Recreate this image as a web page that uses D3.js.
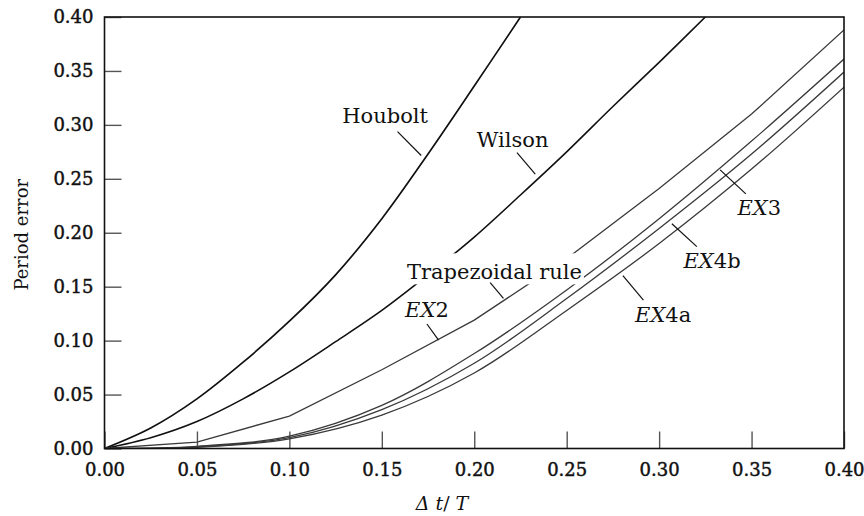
<!DOCTYPE html>
<html>
<head>
<meta charset="utf-8">
<script src="https://cdn.jsdelivr.net/npm/d3@7"></script>
<style>
  html, body { margin: 0; padding: 0; background: #fff; }
  svg text { font-family: "DejaVu Serif", serif; fill: #111; }
</style>
</head>
<body>
<svg id="chart" width="864" height="516"></svg>
<script>
// ─── DATA ─────────────────────────────────────────────────────────────────────
const gridX     = [0, 0.05, 0.10, 0.15, 0.20, 0.25, 0.30, 0.35, 0.40];
const trapY     = [0, 0.006, 0.030, 0.073, 0.119, 0.176, 0.241, 0.310, 0.388];
const ex3Y      = [0, 0.002, 0.0115, 0.040, 0.088, 0.147, 0.213, 0.285, 0.361];
const ex4bY     = [0, 0.0015, 0.010, 0.036, 0.079, 0.139, 0.204, 0.273, 0.349];
const ex4aY     = [0, 0.001, 0.009, 0.031, 0.070, 0.128, 0.190, 0.259, 0.335];

const houboltX  = [0, 0.025, 0.05, 0.075, 0.10, 0.125, 0.15, 0.175, 0.20, 0.225];
const houboltY  = [0, 0.019, 0.046, 0.080, 0.118, 0.161, 0.213, 0.273, 0.336, 0.40];

const wilsonX   = [0, 0.025, 0.05, 0.075, 0.10, 0.125, 0.15, 0.175, 0.20, 0.225, 0.25, 0.275, 0.30, 0.325];
const wilsonY   = [0, 0.010, 0.025, 0.046, 0.071, 0.099, 0.128, 0.161, 0.196, 0.235, 0.275, 0.317, 0.358, 0.40];

const tickValues = [0, 0.05, 0.10, 0.15, 0.20, 0.25, 0.30, 0.35, 0.40];

// label text anchor + leader line (data units)
const labels = [
  { parts: [["Houbolt", false]],          at: [0.175, 0.3016], anchor: "end",   lead: [[0.1585, 0.2938], [0.1713, 0.2716]] },
  { parts: [["Wilson", false]],           at: [0.2014, 0.2799], anchor: "start", lead: [[0.2231, 0.2743], [0.2330, 0.2543]] },
  { parts: [["Trapezoidal rule", false]], at: [0.1636, 0.1568], anchor: "start", lead: [[0.2086, 0.1537], [0.2158, 0.1392]], mask: true },
  { parts: [["EX", true], ["2", false]],  at: [0.1626, 0.1221], anchor: "start", lead: [[0.1744, 0.1154], [0.1807, 0.1005]] },
  { parts: [["EX", true], ["3", false]],  at: [0.3424, 0.2165], anchor: "start", lead: [[0.3330, 0.2583], [0.3469, 0.2360]] },
  { parts: [["EX", true], ["4b", false]], at: [0.3132, 0.1671], anchor: "start", lead: [[0.3069, 0.2083], [0.3204, 0.1871]] },
  { parts: [["EX", true], ["4a", false]], at: [0.2870, 0.1175], anchor: "start", lead: [[0.2804, 0.1602], [0.2915, 0.1376]] },
];

// ─── LAYOUT ───────────────────────────────────────────────────────────────────
const margin = { left: 104.5, right: 20, top: 17, bottom: 67.5 };
const W = 864, H = 516;
const svg = d3.select("#chart");

const x = d3.scaleLinear().domain([0, 0.40]).range([margin.left, W - margin.right]);
const y = d3.scaleLinear().domain([0, 0.40]).range([H - margin.bottom, margin.top]);

svg.append("defs").append("clipPath").attr("id", "plot-clip")
  .append("rect")
  .attr("x", x(0)).attr("y", y(0.40))
  .attr("width", x(0.40) - x(0)).attr("height", y(0) - y(0.40));

// ─── AXES ─────────────────────────────────────────────────────────────────────
const fmt = d3.format(".2f");

const xAxis = svg.append("g")
  .attr("transform", `translate(0,${y(0)})`)
  .call(d3.axisBottom(x).tickValues(tickValues).tickFormat(fmt).tickSizeInner(-17).tickSizeOuter(0).tickPadding(10));

const yAxis = svg.append("g")
  .attr("transform", `translate(${x(0)},0)`)
  .call(d3.axisLeft(y).tickValues(tickValues).tickFormat(fmt).tickSizeInner(-17).tickSizeOuter(0).tickPadding(11));

[xAxis, yAxis].forEach(ax => {
  ax.select(".domain").remove();
  ax.selectAll(".tick line").attr("stroke", "#555").attr("stroke-width", 1.4);
  ax.selectAll(".tick text")
    .style("font-size", "18px")
    .attr("fill", "#111")
    .attr("stroke", "#111").attr("stroke-width", 0.45);
});
xAxis.selectAll(".tick text").attr("dy", "0.95em");

// ─── CURVES ───────────────────────────────────────────────────────────────────
const plot = svg.append("g").attr("clip-path", "url(#plot-clip)");

const zip = (xs, ys) => xs.map((v, i) => [v, ys[i]]);
const smooth = d3.line().x(d => x(d[0])).y(d => y(d[1])).curve(d3.curveCatmullRom.alpha(0.5));
const straight = d3.line().x(d => x(d[0])).y(d => y(d[1]));

const series = [
  { data: zip(houboltX, houboltY), gen: smooth,   color: "#111", width: 1.7 },
  { data: zip(wilsonX, wilsonY),   gen: smooth,   color: "#111", width: 1.6 },
  { data: zip(gridX, trapY),       gen: straight, color: "#3a3a3a", width: 1.3 },
  { data: zip(gridX, ex3Y),        gen: smooth,   color: "#3a3a3a", width: 1.3 },
  { data: zip(gridX, ex4bY),       gen: smooth,   color: "#3a3a3a", width: 1.3 },
  { data: zip(gridX, ex4aY),       gen: smooth,   color: "#3a3a3a", width: 1.3 },
];

plot.selectAll("path.curve")
  .data(series)
  .join("path")
  .attr("class", "curve")
  .attr("fill", "none")
  .attr("stroke", d => d.color)
  .attr("stroke-width", d => d.width)
  .attr("d", d => d.gen(d.data));

// ─── LABELS ───────────────────────────────────────────────────────────────────
const labelLayer = svg.append("g");
labels.forEach(l => {
  const g = labelLayer.append("g");
  const t = g.append("text")
    .attr("x", x(l.at[0])).attr("y", y(l.at[1]))
    .attr("text-anchor", l.anchor)
    .style("font-size", "21px");
  l.parts.forEach(([s, it]) => t.append("tspan").text(s).style("font-style", it ? "italic" : "normal"));
  if (l.mask) {
    const b = t.node().getBBox();
    g.insert("rect", "text")
      .attr("x", b.x - 2).attr("y", b.y - 7)
      .attr("width", b.width + 4).attr("height", b.height + 7)
      .attr("fill", "#fff");
  }
  g.append("line")
    .attr("x1", x(l.lead[0][0])).attr("y1", y(l.lead[0][1]))
    .attr("x2", x(l.lead[1][0])).attr("y2", y(l.lead[1][1]))
    .attr("stroke", "#111").attr("stroke-width", 1.2);
});

// ─── FRAME & TITLES ───────────────────────────────────────────────────────────
svg.append("rect")
  .attr("x", x(0)).attr("y", y(0.40))
  .attr("width", x(0.40) - x(0)).attr("height", y(0) - y(0.40))
  .attr("fill", "none").attr("stroke", "#111").attr("stroke-width", 1.6);

svg.append("text")
  .attr("transform", `translate(28,${(y(0) + y(0.40)) / 2 + 2}) rotate(-90)`)
  .attr("text-anchor", "middle")
  .style("font-size", "18px")
  .text("Period error");

const xt = svg.append("text")
  .attr("x", 442).attr("y", 510)
  .attr("text-anchor", "middle")
  .style("font-size", "19px").style("font-style", "italic");
xt.append("tspan").text("Δ t");
xt.append("tspan").style("font-style", "normal").text("/ ");
xt.append("tspan").text("T");
</script>
</body>
</html>
